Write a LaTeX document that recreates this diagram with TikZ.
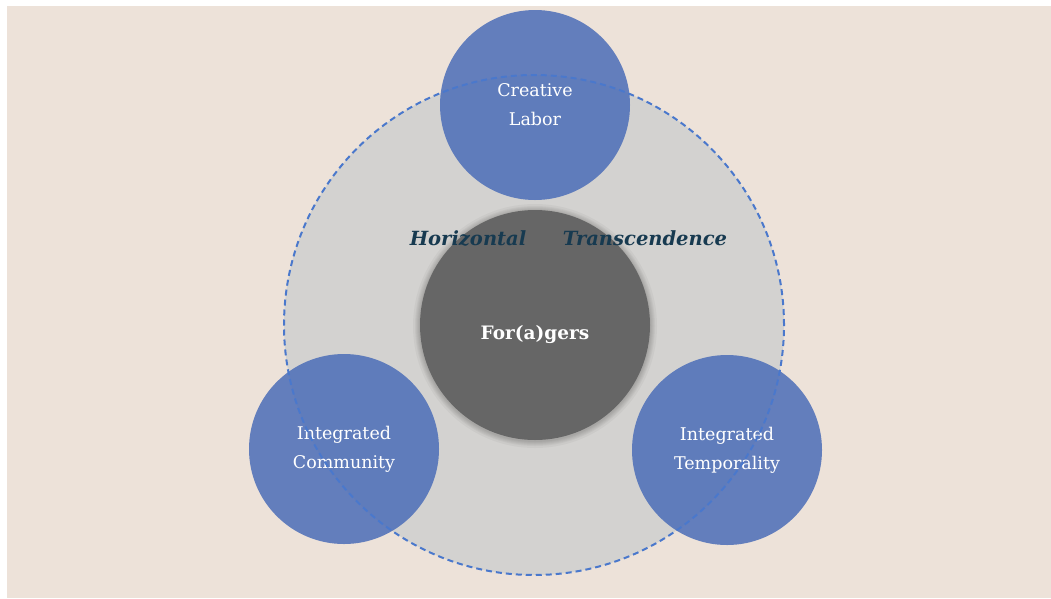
\documentclass[tikz,border=0pt]{standalone}
\usepackage{fontspec}
\setmainfont{DejaVu Serif}
\definecolor{bgbeige}{HTML}{EDE2D9}
\definecolor{ringgrey}{HTML}{D3D2D0}
\definecolor{ringblue}{HTML}{4A78CC}
\definecolor{darkcore}{HTML}{666666}
\definecolor{satblue}{HTML}{4B6DB8}
\definecolor{titleteal}{HTML}{173A50}
\tikzset{
  satellite/.style={circle, fill=satblue, fill opacity=0.85, text opacity=1, text=white,
    minimum size=190pt, inner sep=0pt, align=center, font=\fontsize{17.5}{29}\selectfont},
  core/.style={circle, fill=darkcore, minimum size=230pt, inner sep=0pt},
  glow/.style={circle, fill=black, fill opacity=0.035, inner sep=0pt},
  ring/.style={circle, fill=ringgrey, minimum size=500pt, inner sep=0pt},
  ringedge/.style={circle, draw=ringblue, line width=2pt, dash pattern=on 6pt off 4pt,
    minimum size=500pt, inner sep=0pt},
  heading/.style={text=titleteal, font=\fontsize{19.5}{24}\selectfont\bfseries\itshape},
  corelabel/.style={text=white, font=\fontsize{18.5}{22}\selectfont\bfseries}
}
\begin{document}
\begin{tikzpicture}[x=1pt,y=-1pt]
\useasboundingbox (0,0) rectangle (1051,598);
\fill[white] (0,0) rectangle (1051,598);
\fill[bgbeige] (7,6) rectangle (1051,598);
\node[ring] (ring) at (534,325) {};
\foreach \s in {244,240,238,236,234,232} {
  \node[glow, minimum size=\s pt] at (535,326) {};
}
\node[core] (core) at (535,325) {};
\node[satellite] (labor) at (535,105) {Creative\\Labor};
\node[satellite] (community) at (344,449) {Integrated\\Community};
\node[satellite] (temporality) at (727,450) {Integrated\\Temporality};
\node[ringedge] (ringline) at (534,325) {};
\node[heading] (horiz) at (468,238) {Horizontal};
\node[heading] (trans) at (645,238) {Transcendence};
\node[corelabel] (foragers) at (535,335) {For(a)gers};
\end{tikzpicture}
\end{document}
